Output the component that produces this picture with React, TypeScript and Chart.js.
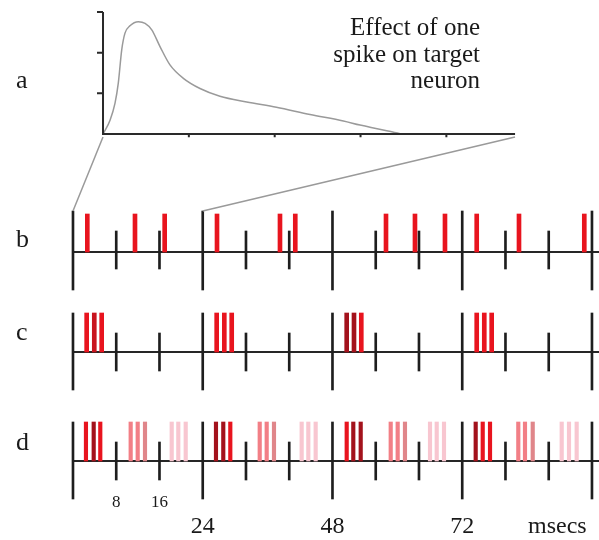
import React, { useEffect, useRef } from "react";
import { Chart, registerables } from "chart.js";

Chart.register(...registerables);

// ---------------- data ----------------
const MAJOR_TICKS = [0, 24, 48, 72, 96];
const MINOR_TICKS = [8, 16, 32, 40, 56, 64, 80, 88];
const SMALL_TICK_LABELS = [8, 16];
const BIG_TICK_LABELS = [24, 48, 72];
const UNIT_LABEL = "msecs";
const UNIT_LABEL_AT = 89.6;

// row b: single spikes (ms)
const B_SPIKES = [2.65, 11.47, 16.96, 26.64, 38.29, 41.12, 57.9, 63.26, 68.81, 74.68, 82.5, 94.58];
const B_SHADES = B_SPIKES.map(() => "red");

// row c: bursts of three (ms)
const C_SPIKES = [2.53, 3.94, 5.31, 26.58, 27.99, 29.36, 50.63, 51.98, 53.33, 74.68, 76.08, 77.45];
const C_SHADES = ["red", "deep", "red", "red", "red", "red", "dark", "dark", "red", "red", "red", "red"];

// row d: bursts of three in every 8 ms slot (ms)
const D_SPIKES = [
  2.4, 3.83, 5.05, 10.67, 11.97, 13.32, 18.26, 19.48, 20.85,
  26.45, 27.8, 29.1, 34.54, 35.83, 37.18, 42.3, 43.53, 44.89,
  50.63, 51.85, 53.22, 58.77, 60.06, 61.41, 66.04, 67.28, 68.63,
  74.49, 75.79, 77.14, 82.37, 83.61, 85.04, 90.4, 91.75, 93.17,
];
const D_SHADES = [
  "red", "dark", "red", "light", "light", "lightdark", "pale", "pale", "pale",
  "dark", "dark", "red", "light", "light", "lightdark", "pale", "pale", "pale",
  "red", "dark", "dark", "light", "light", "lightdark", "pale", "pale", "pale",
  "dark", "red", "red", "light", "light", "lightdark", "pale", "pale", "pale",
];

// panel a: post-synaptic potential curve (ms, arbitrary units)
const PSP_TIME = [0, 0.41, 0.7, 0.89, 1.09, 1.28, 1.57, 2.06, 2.45, 2.84, 3.32, 3.9, 4.68, 5.65, 6.81, 8.37, 10.1, 12.06, 14.0, 14.97, 17.3];
const PSP_VALUE = [0, 0.34, 0.76, 1.25, 2.07, 2.48, 2.66, 2.76, 2.72, 2.56, 2.15, 1.7, 1.37, 1.12, 0.93, 0.79, 0.66, 0.48, 0.32, 0.22, 0.01];
const PSP_XTICKS = [5, 10, 15, 20];
const PSP_YTICKS = [1, 2, 3];
const PSP_XMAX = 24;
const PSP_YMAX = 3;
const TITLE_LINES = ["Effect of one", "spike on target", "neuron"];
const PANEL_LETTERS = ["a", "b", "c", "d"];

// ---------------- styles / layout ----------------
const SHADE_COLORS: Record<string, string> = {
  red: "#e8141e",
  deep: "#c8141e",
  dark: "#a3121c",
  light: "#f27f86",
  lightdark: "#e0868a",
  pale: "#f8c6d0",
};
const SERIF = "'Liberation Serif', 'Times New Roman', serif";
const W = 599;
const H = 540;

const ROWS = [
  { base: 252, up: 41, down: 38, minorUp: 21, minorDown: 17, spikeUp: 38, spikes: B_SPIKES, shades: B_SHADES, width: 4 },
  { base: 352, up: 39, down: 38, minorUp: 19, minorDown: 19, spikeUp: 39, spikes: C_SPIKES, shades: C_SHADES, width: 4 },
  { base: 461, up: 39, down: 38, minorUp: 19, minorDown: 19, spikeUp: 39, spikes: D_SPIKES, shades: D_SHADES, width: 3.5 },
];
const LETTER_BASELINES = [88, 247, 340, 450];

export default function App() {
  const ref = useRef<HTMLCanvasElement | null>(null);

  useEffect(() => {
    document.body.style.margin = "0";
    const canvas = ref.current;
    if (!canvas) return;

    const datasets: any[] = [];

    // spikes (floating bars)
    ROWS.forEach((r) => {
      datasets.push({
        type: "bar",
        data: r.spikes.map((t) => ({ x: t, y: [r.base, r.base - r.spikeUp] })),
        backgroundColor: r.shades.map((s) => SHADE_COLORS[s]),
        barThickness: r.width,
        grouped: false,
        borderWidth: 0,
        xAxisID: "x",
        yAxisID: "y",
        order: 0,
      });
    });

    // ticks (floating bars)
    ROWS.forEach((r) => {
      datasets.push({
        type: "bar",
        data: [
          ...MAJOR_TICKS.map((t) => ({ x: t, y: [r.base + r.down, r.base - r.up] })),
          ...MINOR_TICKS.map((t) => ({ x: t, y: [r.base + r.minorDown, r.base - r.minorUp] })),
        ],
        backgroundColor: "#1e1e1e",
        barThickness: 2,
        grouped: false,
        borderWidth: 0,
        xAxisID: "x",
        yAxisID: "y",
        order: 1,
      });
    });

    // baselines
    ROWS.forEach((r) => {
      datasets.push({
        type: "line",
        data: [
          { x: 0, y: r.base },
          { x: 97.3, y: r.base },
        ],
        borderColor: "#262626",
        borderWidth: 2,
        pointRadius: 0,
        xAxisID: "x",
        yAxisID: "y",
        order: 2,
      });
    });

    // panel a curve
    datasets.push({
      type: "line",
      data: PSP_TIME.map((t, i) => ({ x: t, y: PSP_VALUE[i] })),
      borderColor: "#9a9a9a",
      borderWidth: 1.5,
      pointRadius: 0,
      cubicInterpolationMode: "monotone",
      xAxisID: "xa",
      yAxisID: "ya",
      order: 3,
    });

    // panel a axes
    datasets.push({
      type: "line",
      data: [
        { x: 0, y: PSP_YMAX },
        { x: 0, y: 0 },
        { x: PSP_XMAX, y: 0 },
      ],
      borderColor: "#2a2a2a",
      borderWidth: 2,
      pointRadius: 0,
      xAxisID: "xa",
      yAxisID: "ya",
      order: 2,
    });
    const tickPts: any[] = [];
    PSP_YTICKS.forEach((v) => {
      tickPts.push({ x: -0.35, y: v }, { x: 0, y: v }, { x: 0, y: null });
    });
    PSP_XTICKS.forEach((t) => {
      tickPts.push({ x: t, y: 0 }, { x: t, y: -0.08 }, { x: t, y: null });
    });
    datasets.push({
      type: "line",
      data: tickPts,
      borderColor: "#2a2a2a",
      borderWidth: 2,
      pointRadius: 0,
      spanGaps: false,
      xAxisID: "xa",
      yAxisID: "ya",
      order: 2,
    });

    const overlay = {
      id: "overlay",
      afterDatasetsDraw(chart: any) {
        const ctx = chart.ctx as CanvasRenderingContext2D;
        const sx = chart.scales.x;
        const sy = chart.scales.y;
        const ax = chart.scales.xa;
        const ay = chart.scales.ya;
        ctx.save();

        // projection lines from panel a to row b
        const rb = ROWS[0];
        ctx.strokeStyle = "#9a9a9a";
        ctx.lineWidth = 1.5;
        [0, PSP_XMAX].forEach((t) => {
          ctx.beginPath();
          ctx.moveTo(ax.getPixelForValue(t), ay.getPixelForValue(0) + 3);
          ctx.lineTo(sx.getPixelForValue(t), sy.getPixelForValue(rb.base - rb.up));
          ctx.stroke();
        });

        ctx.fillStyle = "#1a1a1a";
        // title
        ctx.font = `25px ${SERIF}`;
        ctx.textAlign = "right";
        ctx.textBaseline = "alphabetic";
        const tx = ax.getPixelForValue(21.96);
        const ty = ay.getPixelForValue(2.43);
        TITLE_LINES.forEach((l, i) => ctx.fillText(l, tx, ty + i * 26.5));

        // panel letters
        ctx.font = `26px ${SERIF}`;
        ctx.textAlign = "left";
        PANEL_LETTERS.forEach((l, i) => ctx.fillText(l, chart.chartArea.left + 16, LETTER_BASELINES[i]));

        // tick labels
        const lastBase = ROWS[2].base;
        ctx.textAlign = "center";
        ctx.font = `17px ${SERIF}`;
        SMALL_TICK_LABELS.forEach((t) => ctx.fillText(String(t), sx.getPixelForValue(t), sy.getPixelForValue(lastBase + 46)));
        ctx.font = `24px ${SERIF}`;
        BIG_TICK_LABELS.forEach((t) => ctx.fillText(String(t), sx.getPixelForValue(t), sy.getPixelForValue(lastBase + 72)));
        ctx.fillText(UNIT_LABEL, sx.getPixelForValue(UNIT_LABEL_AT), sy.getPixelForValue(lastBase + 72));
        ctx.restore();
      },
    };

    const chart = new Chart(canvas, {
      type: "bar",
      data: { datasets },
      options: {
        responsive: false,
        maintainAspectRatio: false,
        animation: false,
        layout: { padding: 0 },
        plugins: { legend: { display: false }, tooltip: { enabled: false } },
        scales: {
          x: { type: "linear", display: false, min: -13.5, max: 97.3, offset: false },
          y: { type: "linear", display: false, min: 0, max: H, reverse: true },
          xa: { type: "linear", axis: "x", position: "bottom", display: false, min: -6.0, max: 28.89, offset: false },
          ya: { type: "linear", axis: "y", position: "left", display: false, min: -9.98, max: 3.295 },
        },
      } as any,
      plugins: [overlay],
    });

    return () => chart.destroy();
  }, []);

  return (
    <div style={{ width: W, height: H, background: "#fff" }}>
      <canvas ref={ref} width={W} height={H} style={{ display: "block", width: W, height: H }} />
    </div>
  );
}
